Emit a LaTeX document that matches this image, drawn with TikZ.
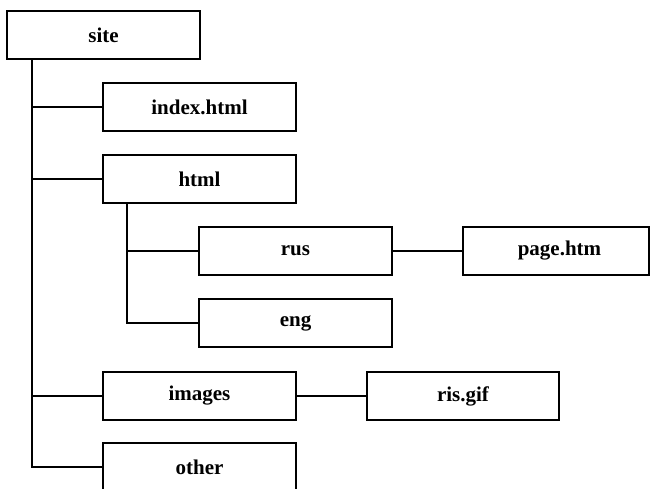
\documentclass[tikz,border=0pt]{standalone}
\usepackage{fontspec}
\setmainfont{Liberation Serif}
\begin{document}
\begin{tikzpicture}[x=1pt,y=-1pt,
  box/.style={draw=black, line width=1.4pt, minimum width=193pt, minimum height=48pt,
    inner sep=0pt, font=\fontsize{21}{25}\selectfont\bfseries},
  link/.style={draw=black, line width=1.4pt}]
\useasboundingbox (0,0) rectangle (650,489);
\begin{scope}
\clip (0,0) rectangle (650,489);
\node[box] (site) at (103.5,35) {site};
\node[box] (index) at (199.5,107) {index.html};
\node[box] (html) at (199.5,179) {html};
\node[box] (rus) at (295.5,251) {rus};
\node[box, minimum width=186pt] (page) at (556,251) {\hspace*{7pt}page.htm};
\node[box] (eng) at (295.5,323) {eng};
\node[box] (images) at (199.5,396) {images};
\node[box, minimum width=192pt] (ris) at (463,396) {ris.gif};
\node[box] (other) at (199.5,467) {other};
\coordinate (t0) at (32,59);
\coordinate (h0) at (127,203);
\draw[link] (t0) |- (other.west);
\draw[link] (t0 |- index.west) -- (index.west);
\draw[link] (t0 |- html.west) -- (html.west);
\draw[link] (t0 |- images.west) -- (images.west);
\draw[link] (h0) |- (eng.west);
\draw[link] (h0 |- rus.west) -- (rus.west);
\draw[link] (rus.east) -- (page.west);
\draw[link] (images.east) -- (ris.west);
\end{scope}
\end{tikzpicture}
\end{document}
